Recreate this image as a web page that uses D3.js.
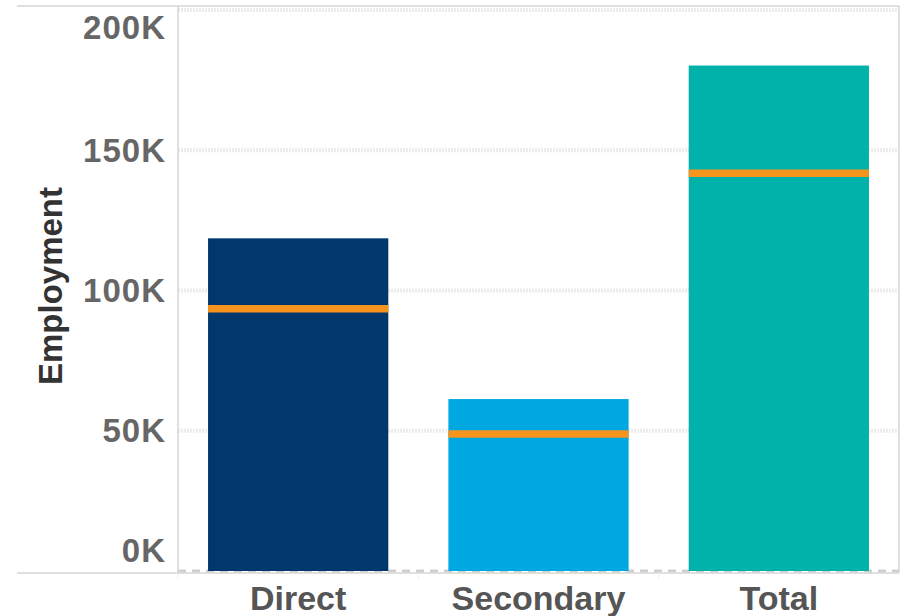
<!DOCTYPE html>
<html>
<head>
<meta charset="utf-8">
<script src="https://cdn.jsdelivr.net/npm/d3@7"></script>
<style>
  html, body { margin: 0; padding: 0; background: #fff; }
  svg { display: block; }
  text { font-family: "Liberation Sans", Arial, sans-serif; font-weight: bold; }
</style>
</head>
<body>
<svg id="chart" width="903" height="616"></svg>
<script>
// Employment by impact type
const categories = ["Direct", "Secondary", "Total"];
const employment = [118600, 61300, 180200];
const referenceLine = [93500, 48800, 141800];
const barColors = ["#00386e", "#00a8e1", "#00b2a9"];
const tickValues = [0, 50000, 100000, 150000, 200000];
const tickLabels = ["0K", "50K", "100K", "150K", "200K"];
const axisTitle = "Employment";

const svg = d3.select("#chart");
const frame = { left: 17, plotLeft: 178, right: 899, top: 6, bottom: 573 };

const x = d3.scaleBand()
  .domain(categories)
  .range([frame.plotLeft, frame.right])
  .paddingInner(0.25)
  .paddingOuter(0.125);

const y = d3.scaleLinear()
  .domain([0, 200000])
  .range([571, 10]);

// dotted horizontal gridlines
svg.append("g")
  .selectAll("line")
  .data(tickValues.slice(1))
  .join("line")
  .attr("x1", frame.plotLeft)
  .attr("x2", frame.right)
  .attr("y1", d => y(d))
  .attr("y2", d => y(d))
  .attr("stroke", "#ececec")
  .attr("stroke-width", 4)
  .attr("stroke-dasharray", "2,1");

// zero line (dashed)
svg.append("line")
  .attr("x1", frame.plotLeft)
  .attr("x2", frame.right)
  .attr("y1", y(0))
  .attr("y2", y(0))
  .attr("stroke", "#cfcfcf")
  .attr("stroke-width", 3)
  .attr("stroke-dasharray", "8,6");

// bars
svg.append("g")
  .selectAll("rect")
  .data(categories)
  .join("rect")
  .attr("x", d => x(d))
  .attr("width", x.bandwidth())
  .attr("y", (d, i) => y(employment[i]))
  .attr("height", (d, i) => y(0) - y(employment[i]))
  .attr("fill", (d, i) => barColors[i]);

// reference lines across each bar
svg.append("g")
  .selectAll("line")
  .data(categories)
  .join("line")
  .attr("x1", d => x(d))
  .attr("x2", d => x(d) + x.bandwidth())
  .attr("y1", (d, i) => y(referenceLine[i]))
  .attr("y2", (d, i) => y(referenceLine[i]))
  .attr("stroke", "#f7941d")
  .attr("stroke-width", 7.5);

// frame lines
const frameColor = "#d6d6d6";
svg.append("line")
  .attr("x1", frame.left).attr("x2", frame.right)
  .attr("y1", frame.top).attr("y2", frame.top)
  .attr("stroke", frameColor).attr("stroke-width", 1.5);
svg.append("line")
  .attr("x1", frame.left).attr("x2", frame.right)
  .attr("y1", frame.bottom).attr("y2", frame.bottom)
  .attr("stroke", frameColor).attr("stroke-width", 1.5);
svg.append("line")
  .attr("x1", frame.plotLeft).attr("x2", frame.plotLeft)
  .attr("y1", frame.top).attr("y2", frame.bottom)
  .attr("stroke", frameColor).attr("stroke-width", 1.5);
svg.append("line")
  .attr("x1", frame.right).attr("x2", frame.right)
  .attr("y1", frame.top).attr("y2", frame.bottom)
  .attr("stroke", frameColor).attr("stroke-width", 1.5);

// header separators below the axis
svg.append("g")
  .selectAll("line")
  .data(categories)
  .join("line")
  .attr("x1", d => x(d) - x.step() * x.paddingInner() / 2)
  .attr("x2", d => x(d) - x.step() * x.paddingInner() / 2)
  .attr("y1", frame.bottom)
  .attr("y2", frame.bottom + 5)
  .attr("stroke", "#ececec")
  .attr("stroke-width", 1);

// y tick labels (end labels kept inside the pane)
svg.append("g")
  .selectAll("text")
  .data(tickValues)
  .join("text")
  .attr("x", 166)
  .attr("y", d => Math.min(Math.max(y(d), 27), 550))
  .attr("dy", "0.35em")
  .attr("text-anchor", "end")
  .attr("fill", "#666")
  .attr("font-size", 33)
  .attr("letter-spacing", 1)
  .text((d, i) => tickLabels[i]);

// category labels
svg.append("g")
  .selectAll("text")
  .data(categories)
  .join("text")
  .attr("x", d => x(d) + x.bandwidth() / 2)
  .attr("y", 610)
  .attr("text-anchor", "middle")
  .attr("fill", "#555")
  .attr("font-size", 34)
  .text(d => d);

// axis title
svg.append("text")
  .attr("transform", "translate(62,286) rotate(-90)")
  .attr("text-anchor", "middle")
  .attr("fill", "#333")
  .attr("font-size", 33)
  .text(axisTitle);
</script>
</body>
</html>
